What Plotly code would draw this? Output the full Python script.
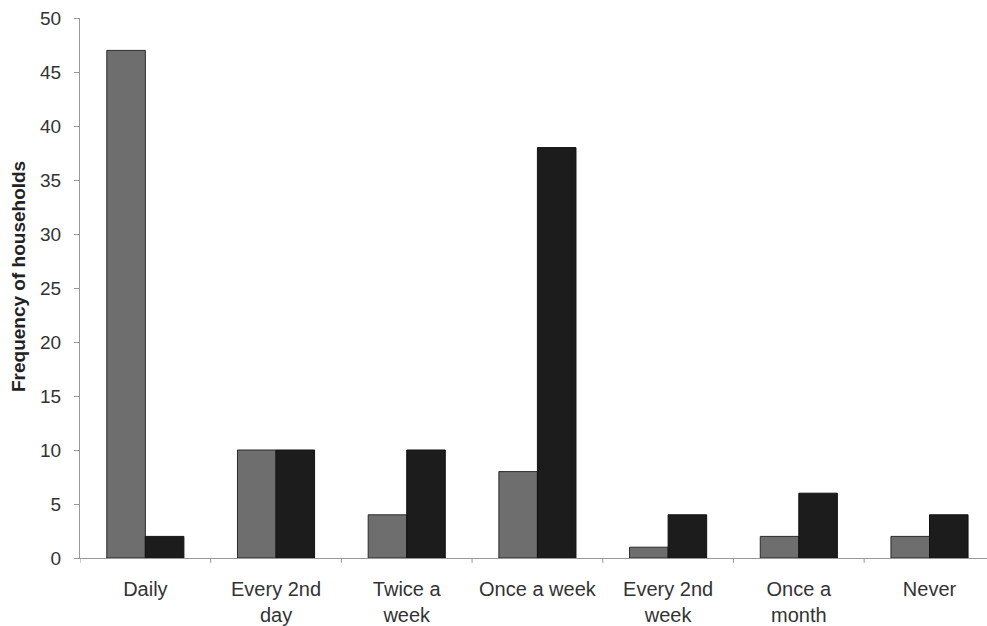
import plotly.graph_objects as go

categories = ["Daily", "Every 2nd<br>day", "Twice a<br>week", "Once a week",
              "Every 2nd<br>week", "Once a<br>month", "Never"]
series_gray = [47, 10, 4, 8, 1, 2, 2]
series_black = [2, 10, 10, 38, 4, 6, 4]
y_ticks = [0, 5, 10, 15, 20, 25, 30, 35, 40, 45, 50]
y_title = "Frequency of households"

xpos = list(range(len(categories)))

fig = go.Figure()
fig.add_trace(go.Bar(x=xpos, y=series_gray, marker=dict(color="#6e6e6e", line=dict(color="#2a2a2a", width=1))))
fig.add_trace(go.Bar(x=xpos, y=series_black, marker=dict(color="#1c1c1c", line=dict(color="#111111", width=1))))

fig.update_layout(
    width=987, height=626,
    margin=dict(l=80, r=0, t=18, b=68),
    paper_bgcolor="white", plot_bgcolor="white",
    barmode="group", bargap=0.41, bargroupgap=0,
    showlegend=False,
    font=dict(family="Arial, Liberation Sans, sans-serif", color="#333333", size=19),
)
fig.update_xaxes(
    range=[-0.5, 6.44], tickmode="array", tickvals=xpos, ticktext=categories,
    showline=True, linecolor="#999999", linewidth=1,
    ticks="", showgrid=False, zeroline=False, tickfont=dict(size=20),
    ticklabelstandoff=13,
)
# category boundary ticks
for k in range(len(categories)):
    fig.add_shape(type="line", xref="x", yref="paper", x0=k - 0.5, x1=k - 0.5, y0=0, y1=-0.009,
                  line=dict(color="#999999", width=1))
fig.update_yaxes(
    range=[0, 50], tickmode="array", tickvals=y_ticks,
    showline=True, linecolor="#999999", linewidth=1,
    ticks="outside", ticklen=5, tickcolor="#999999",
    showgrid=False, zeroline=False, tickfont=dict(size=19),
    ticklabelstandoff=9,
)
fig.add_annotation(
    text="<b>" + y_title + "</b>", textangle=-90, showarrow=False,
    xref="paper", yref="paper", x=0, y=0.5, xanchor="center", yanchor="middle",
    xshift=-62, yshift=11, font=dict(size=19, color="#222222"),
)
fig.write_html("out.html")
